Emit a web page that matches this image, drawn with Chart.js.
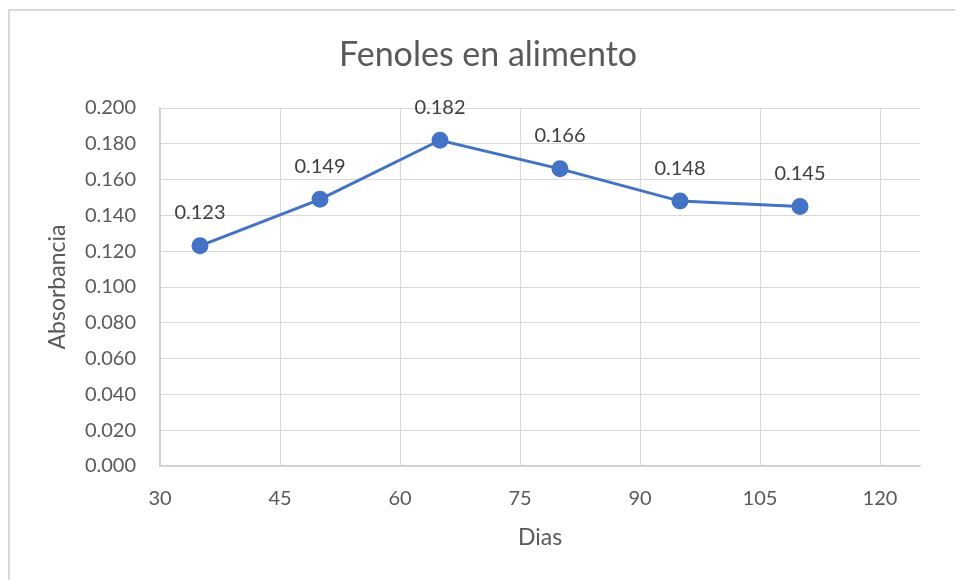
<!DOCTYPE html>
<html>
<head>
<meta charset="utf-8">
<script src="https://cdn.jsdelivr.net/npm/chart.js@4/dist/chart.umd.min.js"></script>
<style>
  html, body { margin: 0; padding: 0; background: #fff; overflow: hidden; }
  #wrap { position: relative; width: 955px; height: 580px; }
  #frame { position: absolute; left: 8px; top: 9px; width: 1000px; height: 600px;
           border: 2px solid #d9d9d9; box-sizing: border-box; }
  canvas { position: absolute; left: 0; top: 0; }
</style>
</head>
<body>
<div id="wrap">
  <div id="frame"></div>
  <canvas id="c" width="955" height="580"></canvas>
</div>
<script>
// Días de almacenamiento y absorbancia medida
const dias = [35, 50, 65, 80, 95, 110];
const absorbancia = [0.123, 0.149, 0.182, 0.166, 0.148, 0.145];
const xTicks = [30, 45, 60, 75, 90, 105, 120];
const titulo = 'Fenoles en alimento';

const FONT = "Lato, 'Open Sans', sans-serif";
const BLUE = '#4472C4';

// Título centrado sobre el marco del gráfico
const chartTitle = {
  id: 'chartTitle',
  afterDraw(chart) {
    const ctx = chart.ctx;
    ctx.save();
    ctx.font = '34px ' + FONT;
    ctx.fillStyle = '#595959';
    ctx.textAlign = 'center';
    ctx.textBaseline = 'middle';
    ctx.fillText(titulo, 488, 55);
    ctx.restore();
  }
};

// Etiquetas de valor encima de cada punto
const valueLabels = {
  id: 'valueLabels',
  afterDatasetsDraw(chart) {
    const ctx = chart.ctx;
    const meta = chart.getDatasetMeta(0);
    ctx.save();
    ctx.font = '20px ' + FONT;
    ctx.fillStyle = '#404040';
    ctx.textAlign = 'center';
    ctx.textBaseline = 'middle';
    meta.data.forEach((pt, i) => {
      ctx.fillText(absorbancia[i].toFixed(3), pt.x, pt.y - 33);
    });
    ctx.restore();
  }
};

new Chart(document.getElementById('c'), {
  type: 'scatter',
  data: {
    datasets: [{
      data: dias.map((d, i) => ({ x: d, y: absorbancia[i] })),
      showLine: true,
      borderColor: BLUE,
      backgroundColor: BLUE,
      borderWidth: 3,
      pointRadius: 7,
      pointHoverRadius: 7,
      pointBackgroundColor: BLUE,
      pointBorderColor: BLUE,
      tension: 0
    }]
  },
  options: {
    responsive: false,
    animation: false,
    layout: { padding: { left: 0, right: 35, top: 108, bottom: 0 } },
    plugins: {
      legend: { display: false },
      tooltip: { enabled: false },
      title: { display: false }
    },
    scales: {
      x: {
        type: 'linear',
        min: 30,
        max: 125,
        afterBuildTicks(scale) {
          scale.ticks = xTicks.map(v => ({ value: v }));
        },
        afterFit(scale) { scale.height = 114; },
        ticks: {
          stepSize: 15,
          padding: 21,
          color: '#595959',
          font: { family: FONT, size: 20 },
          maxRotation: 0
        },
        grid: { color: '#d9d9d9', lineWidth: 1, drawTicks: false },
        border: { color: '#d0d0d0', width: 1.5 },
        title: {
          display: true,
          text: 'Dias',
          color: '#595959',
          font: { family: FONT, size: 23 },
          padding: { top: 0, bottom: 29 }
        }
      },
      y: {
        min: 0,
        max: 0.2,
        afterFit(scale) { scale.width = 160; },
        ticks: {
          stepSize: 0.02,
          padding: 24,
          color: '#595959',
          font: { family: FONT, size: 20 },
          callback: v => Number(v).toFixed(3)
        },
        grid: { color: '#d9d9d9', lineWidth: 1, drawTicks: false },
        border: { color: '#d0d0d0', width: 1.5 },
        title: {
          display: true,
          text: 'Absorbancia',
          color: '#595959',
          font: { family: FONT, size: 23 },
          padding: { top: 44, bottom: 0 }
        }
      }
    }
  },
  plugins: [valueLabels, chartTitle]
});
</script>
</body>
</html>
